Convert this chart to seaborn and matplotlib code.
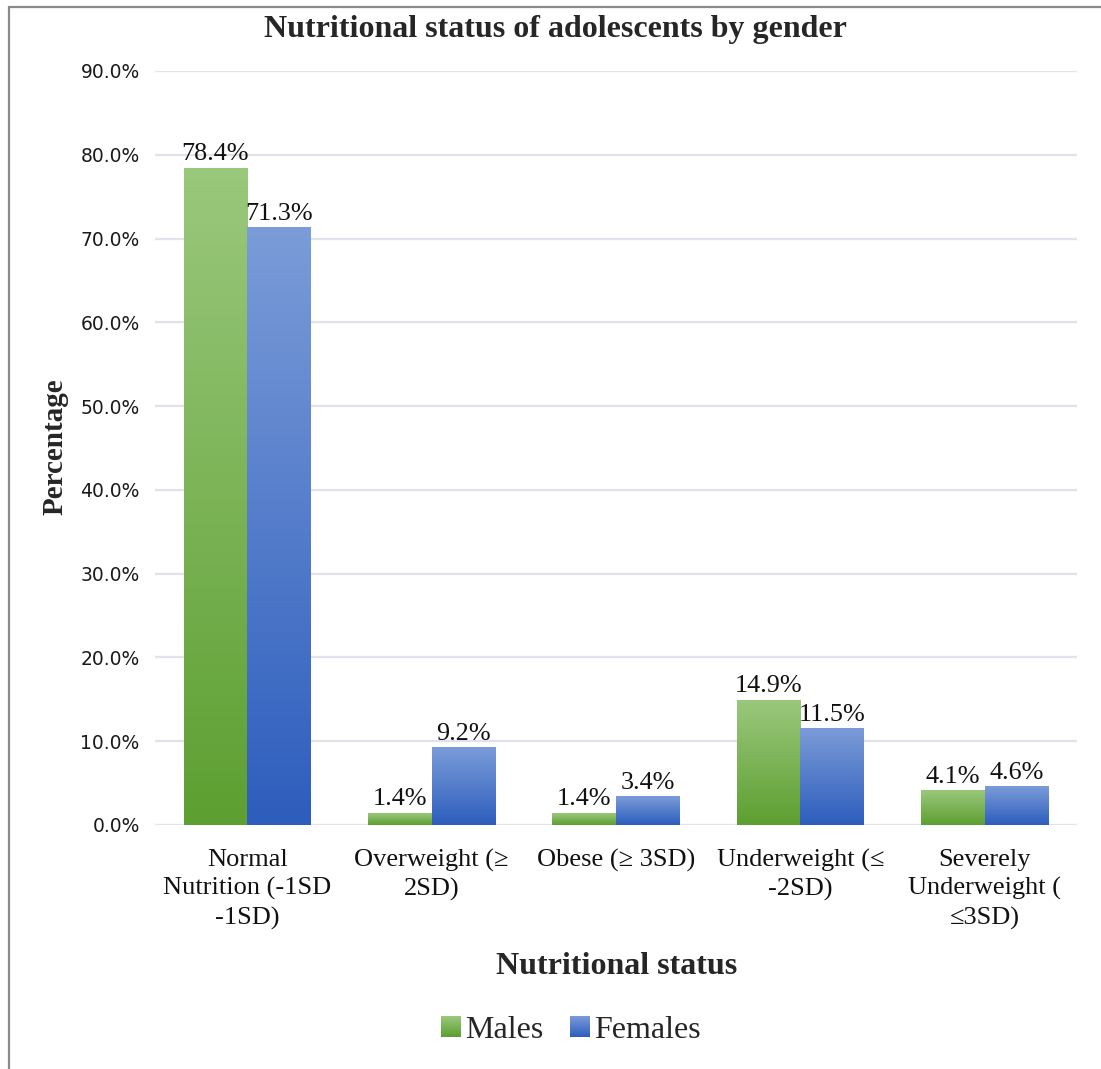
import numpy as np
import pandas as pd
import matplotlib
matplotlib.use("Agg")
import matplotlib.pyplot as plt
from matplotlib.colors import LinearSegmentedColormap
from matplotlib.lines import Line2D
from matplotlib.patches import Patch
from matplotlib.legend_handler import HandlerBase
from matplotlib.image import BboxImage
from matplotlib.transforms import Bbox, TransformedBbox
import seaborn as sns

# Nutritional status categories and percentages per gender
categories = [
    "Normal\nNutrition (-1SD\n-1SD)",
    "Overweight (\u2265\n2SD)",
    "Obese (\u2265 3SD)",
    "Underweight (\u2264\n-2SD)",
    "Severely\nUnderweight (\n\u22643SD)",
]
males = [78.4, 1.4, 1.4, 14.9, 4.1]
females = [71.3, 9.2, 3.4, 11.5, 4.6]
genders = ["Males", "Females"]
y_ticks = [0, 10, 20, 30, 40, 50, 60, 70, 80, 90]

df = pd.DataFrame({
    "status": categories * 2,
    "pct": males + females,
    "gender": ["Males"] * len(categories) + ["Females"] * len(categories),
})

sns.set_theme(style="white")
serif = "Liberation Serif"
plt.rcParams["font.family"] = ["DejaVu Sans"]

W, H = 1101, 1069
fig = plt.figure(figsize=(W / 100, H / 100), dpi=100)
ax = fig.add_axes([155 / W, 1 - 825 / H, (1077 - 155) / W, (825 - 71) / H])

# gradient endpoints (top, bottom) for each series
grad = {
    "Males": ("#9ac87c", "#5d9f31"),
    "Females": ("#7b9cd8", "#2d5dbd"),
}
mid = {"Males": "#70ad47", "Females": "#4472c4"}
cmaps = {g: LinearSegmentedColormap.from_list(g, [grad[g][1], grad[g][0]])
         for g in genders}

sns.barplot(data=df, x="status", y="pct", hue="gender", hue_order=genders,
            palette=mid, width=0.69, ax=ax, legend=False, saturation=1,
            linewidth=0)

ax.set_xlim(-0.5, len(categories) - 0.5)
ax.set_ylim(0, 90)

# replace flat fills with vertical gradients, light at top
for cont, g in zip(ax.containers, genders):
    for bar in cont:
        x0, y0 = bar.get_x(), bar.get_y()
        w, h = bar.get_width(), bar.get_height()
        bar.set_facecolor("none")
        img = np.linspace(0, 1, 256).reshape(-1, 1)
        ax.imshow(img, cmap=cmaps[g], origin="lower", aspect="auto",
                  extent=[x0, x0 + w, y0, y0 + h], zorder=2,
                  interpolation="bilinear")
        ax.text(x0 + w / 2, y0 + h + 0.35, f"{h:.1f}%", ha="center",
                va="bottom", fontsize=18.8, family=serif, color="#111111",
                zorder=3)

ax.set_xlim(-0.5, len(categories) - 0.5)
ax.set_ylim(0, 90)
ax.set_yticks(y_ticks)
ax.set_yticklabels([f"{v:.1f}%" for v in y_ticks], fontsize=13.5,
                   color="#1a1a1a")
ax.set_xticks(range(len(categories)))
ax.set_xticklabels(categories, fontsize=19, family=serif, color="#111111",
                   linespacing=1.37)
ax.tick_params(axis="y", length=0, pad=11)
ax.tick_params(axis="x", length=0, pad=17)
ax.grid(axis="y", color="#e1e3ea", linewidth=1.6, zorder=0)
ax.set_axisbelow(True)
for s in ax.spines.values():
    s.set_visible(False)
ax.set_xlabel("")
ax.set_ylabel("")

# titles
fig.text(555 / W, 1 - 30 / H, "Nutritional status of adolescents by gender",
         ha="center", va="center", fontsize=23, fontweight="bold",
         family=serif)
fig.text(617 / W, 1 - 967 / H, "Nutritional status", ha="center",
         va="center", fontsize=23, fontweight="bold", family=serif)
fig.text(55 / W, 1 - 447 / H, "Percentage", ha="center", va="center",
         rotation=90, fontsize=21, fontweight="bold", family=serif)


class GradientHandler(HandlerBase):
    """Legend key drawn as a small vertical gradient square."""

    def __init__(self, cmap):
        super().__init__()
        self.cmap = cmap

    def create_artists(self, legend, orig_handle, xdescent, ydescent,
                       width, height, fontsize, trans):
        bb = TransformedBbox(Bbox.from_bounds(-xdescent, -ydescent,
                                              width, height), trans)
        im = BboxImage(bb, cmap=self.cmap, origin="lower",
                       interpolation="bilinear")
        im.set_data(np.linspace(0, 1, 64).reshape(-1, 1))
        return [im]


handles = [Patch(facecolor=mid[g], edgecolor="none") for g in genders]
fig.legend(handles, genders, loc="center",
           bbox_to_anchor=(571 / W, 1 - 1030 / H),
           ncol=2, frameon=False, prop={"family": serif, "size": 23},
           handlelength=0.62, handleheight=0.62, handletextpad=0.15,
           columnspacing=0.82,
           handler_map={h: GradientHandler(cmaps[g])
                        for h, g in zip(handles, genders)})

# outer chart frame
fc = "#8a8a8a"
fig.add_artist(Line2D([8.5 / W, 8.5 / W], [0, 1 - 7 / H], color=fc,
                      linewidth=1.6, transform=fig.transFigure))
fig.add_artist(Line2D([8.5 / W, 1], [1 - 7 / H, 1 - 7 / H], color=fc,
                      linewidth=1.6, transform=fig.transFigure))

fig.savefig("out.png", dpi=100, facecolor="white")
